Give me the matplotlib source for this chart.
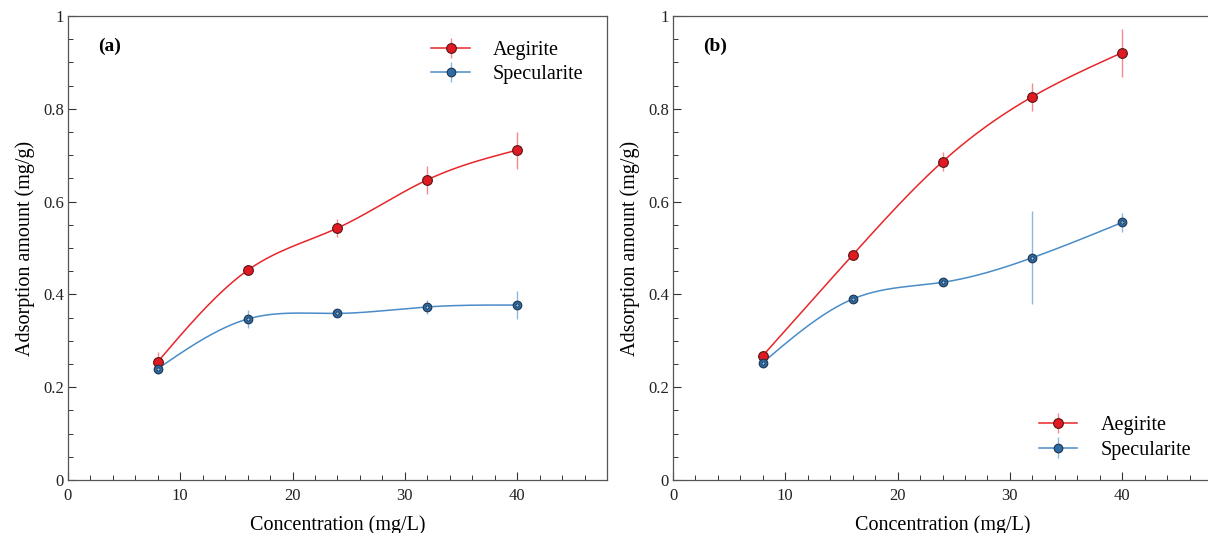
import numpy as np
import matplotlib
matplotlib.use("Agg")
import matplotlib.pyplot as plt
from matplotlib.ticker import MultipleLocator, FormatStrFormatter
from matplotlib.legend_handler import HandlerTuple

plt.rcParams['font.family'] = ['Liberation Serif', 'DejaVu Serif']

conc = [8, 16, 24, 32, 40]

# panel (a)
aeg_a = [0.255, 0.452, 0.543, 0.647, 0.711]
aeg_a_err = [0.020, 0.010, 0.020, 0.030, 0.040]
spe_a = [0.240, 0.347, 0.359, 0.373, 0.377]
spe_a_err = [0.012, 0.020, 0.008, 0.015, 0.030]

# panel (b)
aeg_b = [0.268, 0.485, 0.686, 0.826, 0.921]
aeg_b_err = [0.010, 0.008, 0.020, 0.030, 0.052]
spe_b = [0.253, 0.390, 0.426, 0.479, 0.555]
spe_b_err = [0.012, 0.008, 0.005, 0.100, 0.020]

panel_tags = ["(a)", "(b)"]


def spline(x, y, n=300):
    # natural cubic spline, like the Origin smooth line
    x = np.asarray(x, float)
    y = np.asarray(y, float)
    k = len(x)
    h = np.diff(x)
    A = np.zeros((k, k))
    r = np.zeros(k)
    A[0, 0] = A[-1, -1] = 1
    for i in range(1, k - 1):
        A[i, i - 1] = h[i - 1]
        A[i, i] = 2 * (h[i - 1] + h[i])
        A[i, i + 1] = h[i]
        r[i] = 6 * ((y[i + 1] - y[i]) / h[i] - (y[i] - y[i - 1]) / h[i - 1])
    M = np.linalg.solve(A, r)
    xs = np.linspace(x[0], x[-1], n)
    j = np.clip(np.searchsorted(x, xs) - 1, 0, k - 2)
    t1 = x[j + 1] - xs
    t0 = xs - x[j]
    hj = h[j]
    ys = (M[j] * t1 ** 3 + M[j + 1] * t0 ** 3) / (6 * hj) \
        + (y[j] / hj - M[j] * hj / 6) * t1 + (y[j + 1] / hj - M[j + 1] * hj / 6) * t0
    return xs, ys


red = '#e8262a'
blue = '#4a8cc8'

fig = plt.figure(figsize=(12.08, 5.33), dpi=100)
W, H = 1208.0, 533.0
ax_a = fig.add_axes([68 / W, 1 - 480 / H, (607 - 68) / W, (480 - 16) / H])
ax_b = fig.add_axes([673 / W, 1 - 480 / H, (1212 - 673) / W, (480 - 16) / H])

sets = [(ax_a, aeg_a, aeg_a_err, spe_a, spe_a_err),
        (ax_b, aeg_b, aeg_b_err, spe_b, spe_b_err)]

for idx, (ax, ya, ea, ys_, es) in enumerate(sets):
    xa, sa = spline(conc, ya)
    la, = ax.plot(xa, sa, color=red, lw=1.1, zorder=2)
    eba = ax.errorbar(conc, ya, yerr=ea, fmt='o', ms=7, mfc='#e01a22', mec='#5a1414',
                      mew=0.8, ecolor='#f08a8c', elinewidth=1.0, capsize=0, zorder=3)
    xb, sb = spline(conc, ys_)
    lb, = ax.plot(xb, sb, color=blue, lw=1.1, zorder=2)
    ebb = ax.errorbar(conc, ys_, yerr=es, fmt='o', ms=6.2, mfc='#2f6ca6', mec='#1c3550',
                      mew=0.8, ecolor='#8ab8e0', elinewidth=1.0, capsize=0, zorder=3)
    ax.plot(conc, ys_, 'o', ms=2.3, mfc='#9cc0e0', mec='#1c3550', mew=0.6, zorder=4)

    ax.set_xlim(0, 48)
    ax.set_ylim(0, 1)
    ax.xaxis.set_major_locator(MultipleLocator(10))
    ax.xaxis.set_minor_locator(MultipleLocator(2))
    ax.yaxis.set_major_locator(MultipleLocator(0.2))
    ax.yaxis.set_minor_locator(MultipleLocator(0.05))
    ax.yaxis.set_major_formatter(FormatStrFormatter('%g'))
    ax.tick_params(which='both', direction='in', top=False, right=False,
                   labelsize=12, colors='#333333', labelcolor='#222222')
    ax.tick_params(which='major', length=6, width=0.8)
    ax.tick_params(which='minor', length=3.5, width=0.7)
    ax.tick_params(axis='y', which='major', pad=3)
    ax.tick_params(axis='x', which='major', pad=6)
    for s in ax.spines.values():
        s.set_color('#555555')
        s.set_linewidth(0.9)

    ax.set_xlabel('Concentration (mg/L)', fontsize=14.5, labelpad=8)
    ax.set_ylabel('Adsorption amount (mg/g)', fontsize=14.5)
    ax.yaxis.set_label_coords(-0.062, 0.5)
    ax.text(0.055, 0.935, panel_tags[idx], transform=ax.transAxes, fontsize=14,
            fontweight='bold', va='center', ha='left')

    loc = 'upper right' if idx == 0 else 'lower right'
    anchor = (0.99, 0.985) if idx == 0 else (0.995, 0.005)
    ax.legend([(la, eba), (lb, ebb)], ['Aegirite', 'Specularite'],
              handler_map={tuple: HandlerTuple(ndivide=1, pad=0)},
              loc=loc, bbox_to_anchor=anchor, frameon=False, fontsize=14.5,
              handlelength=1.9, handletextpad=1.15, labelspacing=0.25)

fig.savefig('out.png', dpi=100)
